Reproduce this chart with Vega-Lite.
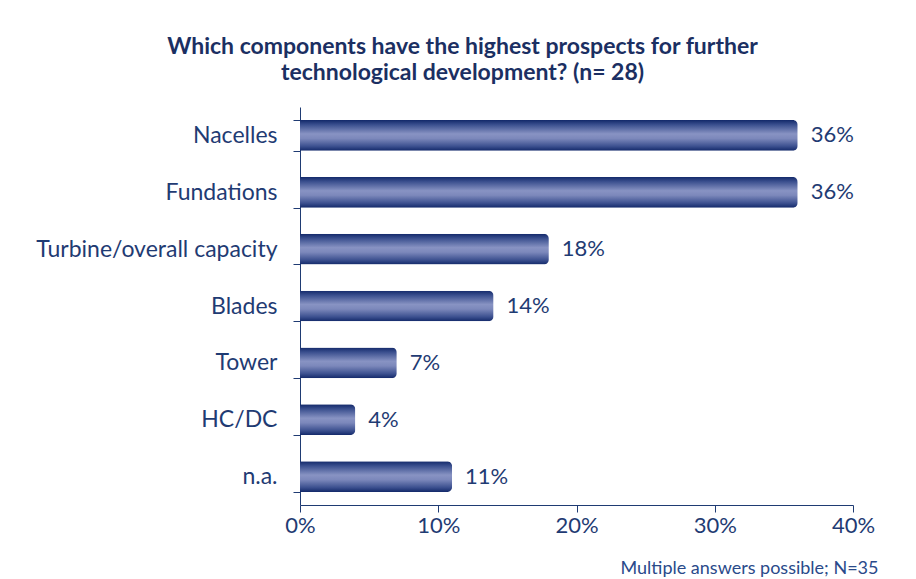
{
  "$schema": "https://vega.github.io/schema/vega-lite/v6.json",
  "width": 553,
  "height": 398,
  "autosize": {"type": "none"},
  "padding": {"left": 300, "top": 107, "right": 63, "bottom": 74},
  "background": "white",
  "title": {
    "text": ["Which components have the highest prospects for further", "technological development? (n= 28)"],
    "font": "Lato",
    "fontSize": 23,
    "fontWeight": "bold",
    "color": "#1b2f62",
    "anchor": "middle",
    "dx": -114,
    "lineHeight": 26,
    "offset": 11
  },
  "data": {
    "values": [
      {"component": "Nacelles", "value": 0.36},
      {"component": "Fundations", "value": 0.36},
      {"component": "Turbine/overall capacity", "value": 0.18},
      {"component": "Blades", "value": 0.14},
      {"component": "Tower", "value": 0.07},
      {"component": "HC/DC", "value": 0.04},
      {"component": "n.a.", "value": 0.11}
    ]
  },
  "encoding": {
    "y": {
      "field": "component",
      "type": "nominal",
      "sort": null,
      "scale": {"paddingInner": 0.46, "paddingOuter": 0.23},
      "axis": {
        "title": null,
        "tickBand": "extent",
        "tickSize": 7,
        "tickColor": "#1f3b73",
        "domainColor": "#1f3b73",
        "labelPadding": 16,
        "labelFont": "Lato",
        "labelFontSize": 23,
        "labelColor": "#1f3b73",
        "labelLimit": 400
      }
    },
    "x": {
      "field": "value",
      "type": "quantitative",
      "scale": {"domain": [0, 0.4]},
      "axis": {
        "values": [0, 0.1, 0.2, 0.3, 0.4],
        "format": ".0%",
        "grid": false,
        "tickSize": 7,
        "tickColor": "#1f3b73",
        "domainColor": "#1f3b73",
        "labelFont": "Lato",
        "labelFontSize": 22,
        "labelColor": "#1f3b73",
        "labelPadding": 3,
        "labelFlush": false,
        "title": "Multiple answers possible; N=35",
        "titleFont": "Lato",
        "titleFontSize": 18,
        "titleFontWeight": "normal",
        "titleColor": "#2a4a8a",
        "titleX": 578,
        "titleY": 68,
        "titleAlign": "right",
        "titleBaseline": "alphabetic"
      }
    }
  },
  "layer": [
    {
      "mark": {
        "type": "bar",
        "cornerRadiusEnd": 5,
        "color": {
          "gradient": "linear",
          "x1": 0, "y1": 0, "x2": 0, "y2": 1,
          "stops": [
            {"offset": 0, "color": "#13296a"},
            {"offset": 0.15, "color": "#3a4f8e"},
            {"offset": 0.45, "color": "#8893c3"},
            {"offset": 0.6, "color": "#7c88bb"},
            {"offset": 0.85, "color": "#3d5190"},
            {"offset": 1, "color": "#13296a"}
          ]
        }
      }
    },
    {
      "mark": {
        "type": "text",
        "align": "left",
        "baseline": "middle",
        "dx": 13,
        "font": "Lato",
        "fontSize": 22,
        "color": "#1f3b73"
      },
      "encoding": {
        "text": {"field": "value", "type": "quantitative", "format": ".0%"}
      }
    }
  ],
  "config": {"view": {"stroke": null}}
}
